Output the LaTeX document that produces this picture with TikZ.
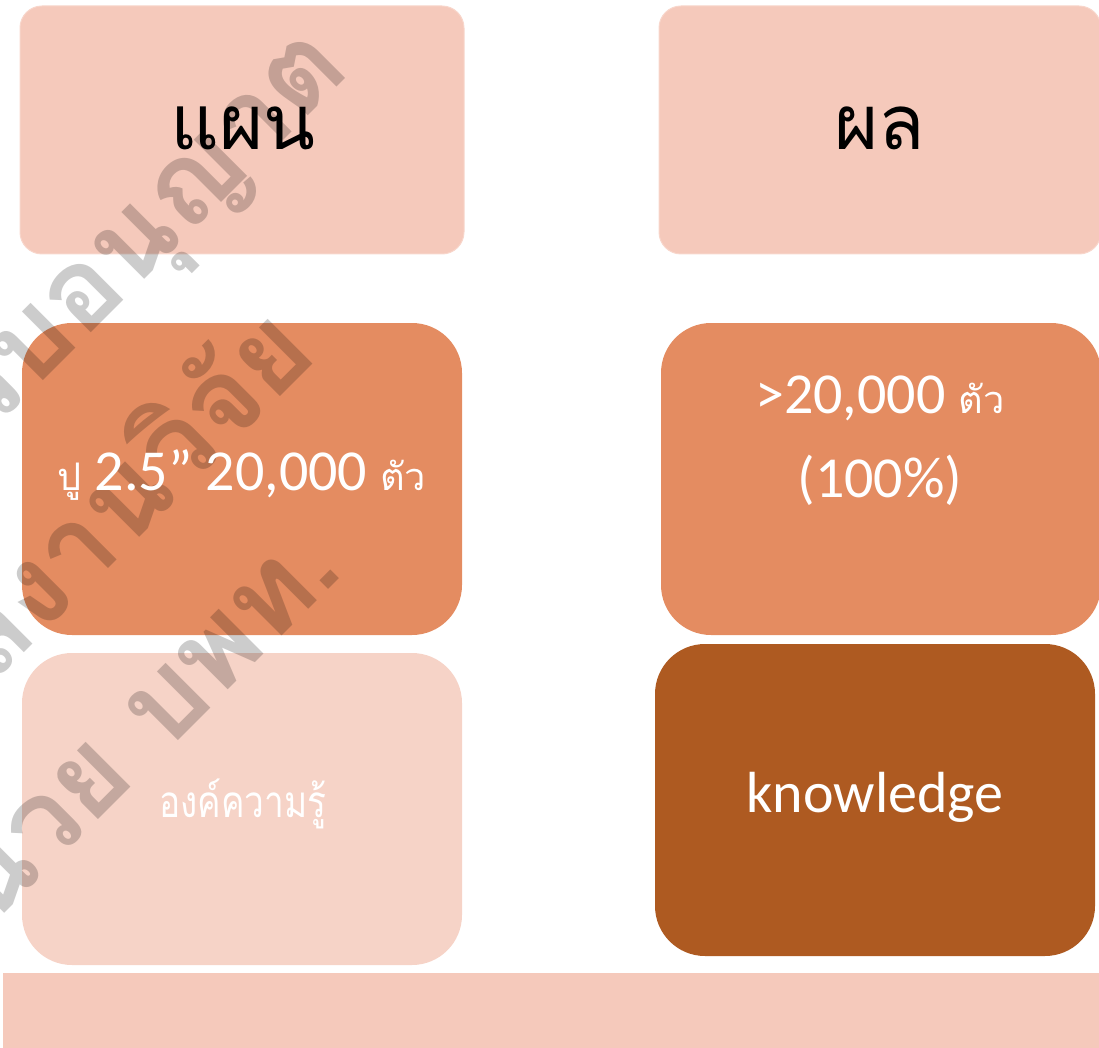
\documentclass[tikz,border=0pt]{standalone}
\usepackage{fontspec}
\setmainfont{Carlito}
\newfontfamily\thai[Script=Thai]{Loma}
\newfontfamily\thaiN[Script=Thai, FakeStretch=0.8]{Loma}
\definecolor{pinkA}{HTML}{F5C9BB}
\definecolor{pinkB}{HTML}{F6D3C7}
\definecolor{pinkEdge}{HTML}{F8D6CB}
\definecolor{orangeA}{HTML}{E48C61}
\definecolor{brownA}{HTML}{AE5A21}
\tikzset{
  panel/.style={rectangle, inner sep=0pt, draw=none},
  lat/.style={font=\fontsize{58pt}{70pt}\selectfont},
  wm/.style={rotate=45, inner sep=0pt, text=black, text opacity=0.2,
    font=\thai\bfseries\fontsize{114pt}{126pt}\selectfont},
}
\newcommand{\thaiS}[1]{{\thai\fontsize{38pt}{46pt}\selectfont #1}}
\begin{document}
\begin{tikzpicture}[x=1pt,y=-1pt]
\useasboundingbox (0,0) rectangle (1099,1048);
% boxes
\node[panel, fill=pinkA, draw=pinkEdge, line width=1pt, rounded corners=22pt,
  minimum width=444pt, minimum height=248pt] (plan) at (242,130) {};
\node[panel, fill=pinkA, draw=pinkEdge, line width=1pt, rounded corners=22pt,
  minimum width=442pt, minimum height=248pt] (result) at (880,130) {};
\node[panel, fill=orangeA, rounded corners=50pt,
  minimum width=440pt, minimum height=312pt] (crab) at (242,479) {};
\node[panel, fill=orangeA, rounded corners=50pt,
  minimum width=440pt, minimum height=312pt] (over) at (881,479) {};
\node[panel, fill=pinkB, rounded corners=50pt,
  minimum width=440pt, minimum height=312pt] (know) at (242,809) {};
\node[panel, fill=brownA, rounded corners=50pt,
  minimum width=440pt, minimum height=312pt] (kn) at (875,800) {};
\node[panel, fill=pinkA, minimum width=1098pt, minimum height=76pt] (band) at (552,1011) {};
% watermark
\begin{scope}
\clip (0,0) rectangle (1099,1048);
\node[wm, anchor=base east] (wm1) at (352,72) {รับอนุญาต};
\node[wm, anchor=base east] (wm2) at (320,357) {ผลงานวิจัย};
\node[wm, anchor=base east] (wm3) at (345,573) {หน่วย บพท.};
\end{scope}
% texts
\node[inner sep=0pt, font=\thai\fontsize{76pt}{90pt}\selectfont] (tplan) at (243,128) {แผน};
\node[inner sep=0pt, font=\thai\fontsize{76pt}{90pt}\selectfont] (tres) at (880,128) {ผล};
\node[inner sep=0pt, lat, text=white, anchor=base] (tcrab) at (242,490) {\thaiS{ปู} 2.5” 20,000 \thaiS{ตัว}};
\node[inner sep=0pt, lat, text=white, anchor=base] (tover1) at (880,413) {>20,000 \thaiS{ตัว}};
\node[inner sep=0pt, lat, text=white, anchor=base] (tover2) at (880,497) {(100\%)};
\node[inner sep=0pt, text=white, anchor=base, font=\thaiN\fontsize{44pt}{54pt}\selectfont] (tknow) at (243,817) {องค์ความรู้};
\node[inner sep=0pt, lat, text=white, anchor=base] (tkn) at (875,812) {knowledge};
\end{tikzpicture}
\end{document}
